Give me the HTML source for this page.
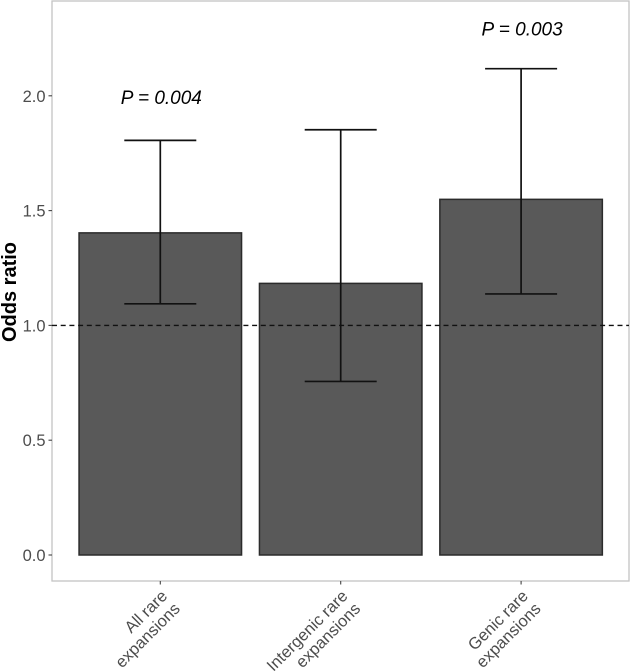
<!DOCTYPE html>
<html>
<head>
<meta charset="utf-8">
<style>
html,body{margin:0;padding:0;background:#fff;}
svg{display:block;font-family:"Liberation Sans",sans-serif;}
</style>
</head>
<body>
<svg id="chart" width="630" height="671" viewBox="0 0 630 671" xmlns="http://www.w3.org/2000/svg">
<rect x="52" y="1" width="577" height="580" fill="#fff" stroke="#c4c4c4" stroke-width="1.3"/>
<g id="bars"></g>
<g id="errors"></g>
<g id="yaxis"></g>
<g id="xaxis"></g>
<g id="annots"></g>
<text transform="translate(16,292) rotate(-90)" text-anchor="middle" font-size="20" font-weight="bold" fill="#000">Odds ratio</text>
</svg>
<script>
const categories = [["All rare","expansions"],["Intergenic rare","expansions"],["Genic rare","expansions"]];
const oddsRatios = [1.403,1.183,1.549];
const ciLower = [1.094,0.756,1.137];
const ciUpper = [1.806,1.852,2.118];
const pLabels = ["P = 0.004","","P = 0.003"];
const pLabelValues = [1.985,0,2.285];
const yTicks = ["0.0","0.5","1.0","1.5","2.0"];
const referenceLine = 1.0;

const NS = "http://www.w3.org/2000/svg";
const yScale = v => 555 - v * 229.6;
const xScale = i => 160.3 + i * 180.4;
const barWidth = 162.5;
const capWidth = 72;

function mk(parent, tag, attrs, text) {
  const el = document.createElementNS(NS, tag);
  for (const k in attrs) el.setAttribute(k, attrs[k]);
  if (text !== undefined) el.textContent = text;
  parent.appendChild(el);
  return el;
}

const barsG = document.getElementById("bars");
const errG = document.getElementById("errors");
const yG = document.getElementById("yaxis");
const xG = document.getElementById("xaxis");
const annG = document.getElementById("annots");

oddsRatios.forEach((v, i) => {
  const b = mk(barsG, "rect", {x: xScale(i) - barWidth / 2, y: yScale(v), width: barWidth, height: yScale(0) - yScale(v), fill: "#595959", stroke: "#2b2b2b", "stroke-width": 1.5});
  
  
});

const refLine = mk(errG, "line", {x1: 52, x2: 629, y1: yScale(referenceLine), y2: yScale(referenceLine), stroke: "#111", "stroke-width": 1.4, "stroke-dasharray": "5 3.7"});



categories.forEach((c, i) => {
  const x = xScale(i);
  const yl = yScale(ciLower[i]), yu = yScale(ciUpper[i]);
  const stem = mk(errG, "line", {x1: x, x2: x, y1: yu, y2: yl, stroke: "#111", "stroke-width": 1.7});
  
  
  const capU = mk(errG, "line", {x1: x - capWidth / 2, x2: x + capWidth / 2, y1: yu, y2: yu, stroke: "#111", "stroke-width": 1.7});
  
  
  const capL = mk(errG, "line", {x1: x - capWidth / 2, x2: x + capWidth / 2, y1: yl, y2: yl, stroke: "#111", "stroke-width": 1.7});
  
  

  const tick = mk(xG, "line", {x1: x, x2: x, y1: 581, y2: 584.5, stroke: "#444", "stroke-width": 1.1});
  
  

  const label = mk(xG, "text", {transform: "translate(" + (x + 3) + ",592) rotate(-45)", "text-anchor": "end", "font-size": 16.5, fill: "#4d4d4d"});
  
  
  mk(label, "tspan", {x: 0, y: 7}, c[0]);
  mk(label, "tspan", {x: 0, dy: 18}, c[1]);

  if (pLabels[i]) {
    const p = mk(annG, "text", {x: x + 1, y: yScale(pLabelValues[i]) + 5, "text-anchor": "middle", "font-size": 19, "font-style": "italic", fill: "#000"}, pLabels[i]);
    
    
  }
});

yTicks.forEach(t => {
  const y = yScale(parseFloat(t));
  const tick = mk(yG, "line", {x1: 48.5, x2: 52, y1: y, y2: y, stroke: "#444", "stroke-width": 1.1});
  
  
  const label = mk(yG, "text", {x: 45.5, y: y + 6, "text-anchor": "end", "font-size": 16.5, fill: "#4d4d4d"}, t);
  
  
});
</script>
</body>
</html>
